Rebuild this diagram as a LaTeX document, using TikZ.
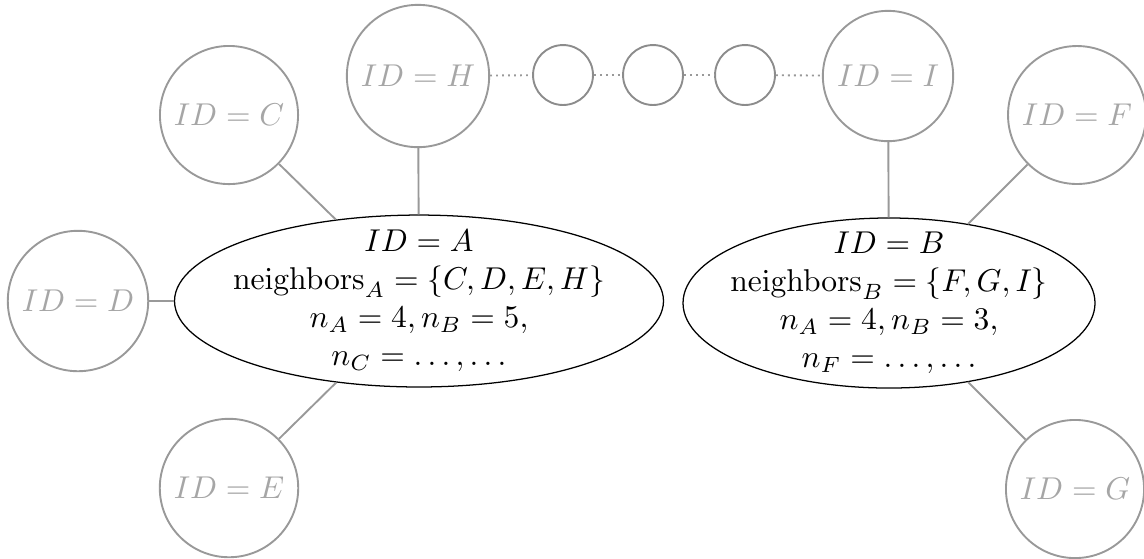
\documentclass[tikz,border=0pt]{standalone}
\usetikzlibrary{shapes.geometric}
\begin{document}
\begin{tikzpicture}[x=0.317pt,y=-0.317pt,
  peer/.style={circle,draw=black!40,line width=0.6pt,text=black!35,inner sep=3.4pt},
  blank/.style={circle,draw=black!45,line width=0.6pt,minimum size=19pt,inner sep=0pt},
  main/.style={ellipse,draw=black,line width=0.4pt,inner sep=0pt},
  link/.style={draw=black!40,line width=0.6pt},
  chain/.style={draw=black!40,line width=0.6pt,dash pattern=on 0.6pt off 1.3pt}]
\useasboundingbox (0,0) rectangle (1144,558);
% main ellipses
\node[main,minimum width=155pt,minimum height=54.5pt] (A) at (419,301) {};
\node[main,minimum width=130.6pt,minimum height=53.9pt] (B) at (889,303) {};
\node[align=center] (textA) at (A.center) {$ID = A$\\ $\mathrm{neighbors}_A = \{C, D, E, H\}$\\ $n_A = 4, n_B = 5,$\\ $n_C = \ldots, \ldots$};
\node[align=center] (textB) at (B.center) {$ID = B$\\ $\mathrm{neighbors}_B = \{F, G, I\}$\\ $n_A = 4, n_B = 3,$\\ $n_F = \ldots, \ldots$};
% peers
\node[peer] (H) at (418,76) {$ID = H$};
\node[peer] (I) at (888,76) {$ID = I$};
\node[peer] (C) at (229,115) {$ID = C$};
\node[peer] (D) at (78,301) {$ID = D$};
\node[peer] (E) at (229,488) {$ID = E$};
\node[peer] (F) at (1077,115) {$ID = F$};
\node[peer] (G) at (1075,489) {$ID = G$};
\node[blank] (s1) at (563,75) {};
\node[blank] (s2) at (653,75) {};
\node[blank] (s3) at (745,75) {};
% connectors
\draw[link] (C) -- (A);
\draw[link] (H) -- (A);
\draw[link] (D) -- (A);
\draw[link] (E) -- (A);
\draw[link] (I) -- (B);
\draw[link] (F) -- (B);
\draw[link] (G) -- (B);
\draw[chain] (H) -- (s1);
\draw[chain] (s1) -- (s2);
\draw[chain] (s2) -- (s3);
\draw[chain] (s3) -- (I);
\end{tikzpicture}
\end{document}
